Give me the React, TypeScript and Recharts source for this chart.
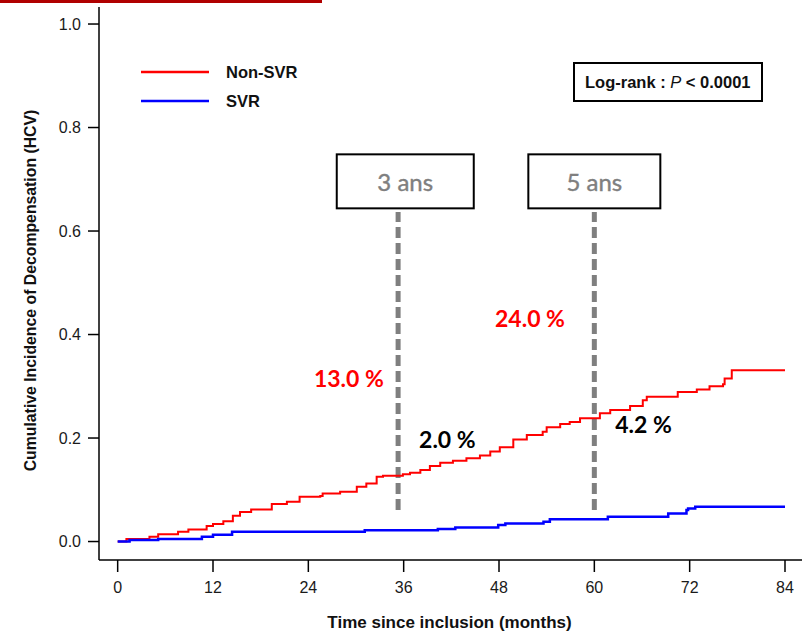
import React from 'react';
import { LineChart, Line, XAxis, YAxis, ReferenceLine, ReferenceDot, Legend } from 'recharts';

// ---- data ----
const nonSvrTime = [0, 1.1, 4.0, 5.1, 7.6, 8.9, 11.2, 12.0, 13.3, 14.5, 15.4, 16.8, 19.4, 21.3, 22.9, 25.5, 25.8, 28.0, 30.1, 31.3, 32.6, 33.4, 35.9, 36.8, 38.1, 39.3, 40.6, 42.2, 43.9, 45.6, 46.9, 48.1, 49.8, 51.5, 53.5, 54.0, 55.7, 56.9, 58.2, 60.7, 62.0, 64.5, 66.1, 66.6, 70.5, 72.9, 74.5, 76.2, 76.4, 77.3, 84.0];
const nonSvrValue = [0, 0.005, 0.009, 0.014, 0.019, 0.023, 0.030, 0.034, 0.039, 0.050, 0.057, 0.062, 0.0725, 0.077, 0.0866, 0.088, 0.093, 0.096, 0.106, 0.112, 0.125, 0.127, 0.130, 0.133, 0.138, 0.146, 0.152, 0.156, 0.161, 0.166, 0.174, 0.182, 0.197, 0.206, 0.212, 0.221, 0.227, 0.231, 0.238, 0.248, 0.254, 0.262, 0.273, 0.280, 0.289, 0.294, 0.300, 0.304, 0.315, 0.331, 0.331];

const svrTime = [0, 1.5, 5.1, 10.6, 12.0, 14.4, 31.1, 40.3, 42.5, 47.9, 48.8, 53.6, 54.4, 61.7, 69.3, 71.6, 71.8, 72.7, 84.0];
const svrValue = [0, 0.003, 0.005, 0.009, 0.013, 0.019, 0.022, 0.024, 0.027, 0.032, 0.035, 0.038, 0.043, 0.048, 0.054, 0.061, 0.064, 0.067, 0.067];

const xTicks = [0, 12, 24, 36, 48, 60, 72, 84];
const yTicks = [0, 0.2, 0.4, 0.6, 0.8, 1.0];

const seriesNames = ['Non-SVR', 'SVR'];
const seriesColors = ['#ff0000', '#0000ff'];

const markerTimes = [35.3, 60.0];
const markerRange = [0.061, 0.637];
const boxTimes = [36.2, 60.0];
const boxLabels = ['3 ans', '5 ans'];
const boxLevel = 0.696;

const pctTimes = [29.1, 41.5, 51.9, 66.2];
const pctValues = [0.316, 0.198, 0.432, 0.227];
const pctLabels = ['13.0 %', '2.0 %', '24.0 %', '4.2 %'];
const pctColors = ['#ff0000', '#000000', '#ff0000', '#000000'];

const nonSvr = nonSvrTime.map((t, i) => ({ t, v: nonSvrValue[i] }));
const svr = svrTime.map((t, i) => ({ t, v: svrValue[i] }));

const AX_FONT = '"Liberation Sans", Arial, sans-serif';
const CAL_FONT = 'Lato, "Open Sans", sans-serif';

const boxWidths = [137, 132];

const LegendContent = (props: any) => {
  const payload = (props.payload || []).filter((p: any) => seriesNames.includes(p.value));
  return (
    <svg width={180} height={50} style={{ display: 'block', overflow: 'visible' }}>
      {payload.map((p: any, i: number) => (
        <g key={p.value}>
          <line x1={0} x2={68} y1={10 + i * 29} y2={10 + i * 29} stroke={p.color} strokeWidth={2.5} />
          <text x={85} y={10 + i * 29} dominantBaseline="central" fontFamily={AX_FONT} fontWeight="bold" fontSize={16.5} fill="#111">
            {p.value}
          </text>
        </g>
      ))}
    </svg>
  );
};

export default function App() {
  return (
    <div style={{ position: 'absolute', left: 0, top: 0, width: 808, height: 636, background: '#fff' }}>
      <div style={{ position: 'absolute', left: 0, top: 0, width: 322, height: 3, background: '#b00000' }} />
      <LineChart width={808} height={636} margin={{ top: 7, right: 6, left: 39, bottom: 36 }}>
        <XAxis
          type="number"
          dataKey="t"
          domain={[-2.35, 86.14]}
          allowDataOverflow
          ticks={xTicks}
          tickSize={12}
          tickMargin={10}
          height={40}
          axisLine={{ stroke: '#000', strokeWidth: 1.5 }}
          tickLine={{ stroke: '#000', strokeWidth: 1.5 }}
          tick={{ fill: '#1a1a1a', fontSize: 16, fontFamily: AX_FONT }}
          label={{
            content: (p: any) => {
              const vb = p.viewBox;
              return (
                <text x={vb.x + vb.width / 2 - 1} y={622} textAnchor="middle" dominantBaseline="central" fontFamily={AX_FONT} fontWeight="bold" fontSize={17} fill="#111">
                  Time since inclusion (months)
                </text>
              );
            },
          }}
        />
        <YAxis
          type="number"
          domain={[-0.0357, 1.0329]}
          allowDataOverflow
          ticks={yTicks}
          tickFormatter={(v: number) => v.toFixed(1)}
          width={60}
          tickSize={11}
          tickMargin={7}
          axisLine={{ stroke: '#000', strokeWidth: 1.5 }}
          tickLine={{ stroke: '#000', strokeWidth: 1.5 }}
          tick={{ fill: '#1a1a1a', fontSize: 16, fontFamily: AX_FONT }}
          label={{
            content: (p: any) => {
              const vb = p.viewBox;
              const cy = vb.y + vb.height / 2 + 7;
              return (
                <text transform={`translate(30, ${cy}) rotate(-90)`} textAnchor="middle" dominantBaseline="central" fontFamily={AX_FONT} fontWeight="bold" fontSize={15.8} fill="#111">
                  Cumulative Incidence of Decompensation (HCV)
                </text>
              );
            },
          }}
        />
        <Legend
          verticalAlign="top"
          align="left"
          content={<LegendContent />}
          wrapperStyle={{ position: 'absolute', left: 141, top: 62, width: 180, height: 0, overflow: 'visible' }}
        />
        {markerTimes.map((x, i) => (
          <ReferenceLine
            key={'m' + i}
            segment={[{ x, y: markerRange[0] }, { x, y: markerRange[1] }]}
            stroke="#7f7f7f"
            strokeWidth={5}
            strokeDasharray="11 5"
          />
        ))}
        <Line data={nonSvr} dataKey="v" name={seriesNames[0]} type="stepAfter" stroke={seriesColors[0]} strokeWidth={2} dot={false} activeDot={false} isAnimationActive={false} />
        <Line data={svr} dataKey="v" name={seriesNames[1]} type="stepAfter" stroke={seriesColors[1]} strokeWidth={2.5} dot={false} activeDot={false} isAnimationActive={false} />
        {boxTimes.map((x, i) => (
          <ReferenceDot
            key={'b' + i}
            x={x}
            y={boxLevel}
            r={0}
            shape={(p: any) => (
              <g>
                <rect x={p.cx - boxWidths[i] / 2} y={p.cy - 27} width={boxWidths[i]} height={54} fill="#fff" stroke="#000" strokeWidth={2} />
                <text x={p.cx} y={p.cy} textAnchor="middle" dominantBaseline="central" fontFamily={CAL_FONT} fontSize={24} fill="#7f7f7f" stroke="#7f7f7f" strokeWidth={0.4}>
                  {boxLabels[i]}
                </text>
              </g>
            )}
          />
        ))}
        {pctTimes.map((x, i) => (
          <ReferenceDot
            key={'p' + i}
            x={x}
            y={pctValues[i]}
            r={0}
            shape={(p: any) => (
              <text x={p.cx} y={p.cy} textAnchor="middle" dominantBaseline="central" fontFamily={CAL_FONT} fontWeight="bold" fontSize={23} fill={pctColors[i]}>
                {pctLabels[i]}
              </text>
            )}
          />
        ))}
      </LineChart>
      <div
        style={{
          position: 'absolute',
          left: 573,
          top: 62,
          width: 190,
          height: 40,
          boxSizing: 'border-box',
          border: '2px solid #000',
          fontFamily: AX_FONT,
          fontWeight: 'bold',
          fontSize: 16.5,
          lineHeight: '36px',
          paddingLeft: 10,
          color: '#111',
          whiteSpace: 'nowrap',
        }}
      >
        Log-rank : <span style={{ fontStyle: 'italic', fontWeight: 'normal' }}>P</span> &lt; 0.0001
      </div>
    </div>
  );
}
